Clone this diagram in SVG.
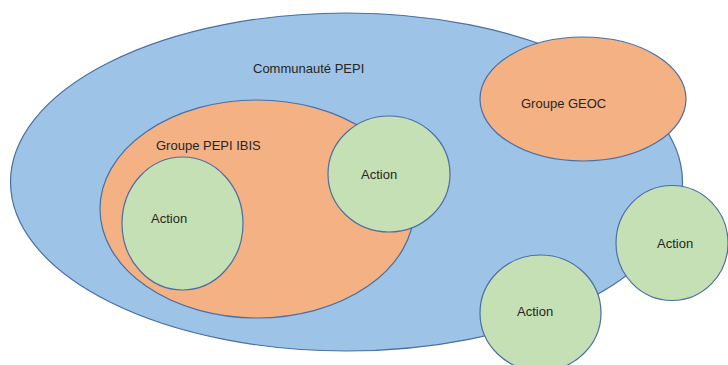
<svg xmlns="http://www.w3.org/2000/svg" width="728" height="365" viewBox="0 0 728 365">
<style>
.blue{fill:#9dc3e6;stroke:#4a6fa5;stroke-width:1.2}
.orange{fill:#f4b183;stroke:#4a6fa5;stroke-width:1.2}
.green{fill:#c5e0b4;stroke:#4a6fa5;stroke-width:1.2}
text{font-family:"Liberation Sans",Arial,sans-serif;font-size:13px;fill:#262626}
</style>
<rect width="728" height="365" fill="#ffffff"/>
<g id="communaute">
<ellipse class="blue" cx="346.5" cy="182" rx="336" ry="169"/>
<text x="253" y="73">Communauté PEPI</text>
</g>
<g id="groupe-pepi-ibis">
<ellipse class="orange" cx="257" cy="209" rx="157" ry="109"/>
<text x="156" y="150">Groupe PEPI IBIS</text>
</g>
<g id="groupe-geoc">
<ellipse class="orange" cx="583" cy="99" rx="103" ry="62"/>
<text x="521" y="108">Groupe GEOC</text>
</g>
<g id="action-inner">
<ellipse class="green" cx="182.5" cy="223.5" rx="60.5" ry="66.5"/>
<text x="151" y="223">Action</text>
</g>
<g id="action-top">
<ellipse class="green" cx="389" cy="174" rx="61" ry="58"/>
<text x="361" y="179">Action</text>
</g>
<g id="action-right">
<ellipse class="green" cx="672" cy="243" rx="56" ry="57.5"/>
<text x="657" y="248">Action</text>
</g>
<g id="action-bottom">
<ellipse class="green" cx="540.5" cy="313" rx="60.5" ry="58"/>
<text x="517" y="316">Action</text>
</g>
<g id="connectors"/>
</svg>
